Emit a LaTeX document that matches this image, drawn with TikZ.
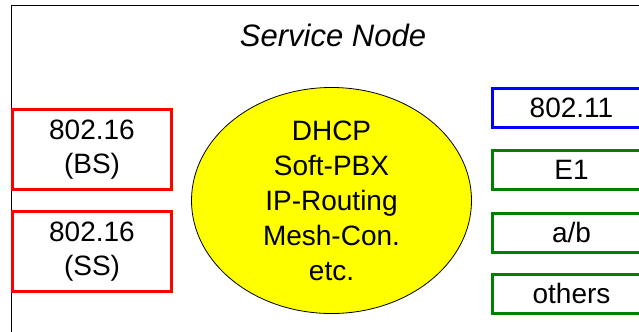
\documentclass[tikz,border=0pt]{standalone}
\usepackage{fontspec}
\setmainfont{Liberation Sans}
\usetikzlibrary{shapes.geometric}
\definecolor{boxred}{RGB}{255,0,0}
\definecolor{boxblue}{RGB}{0,0,255}
\definecolor{boxgreen}{RGB}{0,128,0}
\definecolor{coreyellow}{RGB}{255,255,0}
\begin{document}
\begin{tikzpicture}[x=1bp,y=-1bp,
  txt/.style={font=\fontsize{28bp}{34bp}\selectfont, align=center, inner sep=0pt},
  lbox/.style={txt, draw=boxred, line width=3bp, minimum width=159bp, minimum height=80bp},
  rbox/.style={txt, draw=#1, line width=3bp, minimum width=158bp, minimum height=39bp},
  core/.style={txt, ellipse, draw=black, line width=0.8bp, fill=coreyellow, minimum width=280bp, minimum height=225bp, font=\fontsize{28bp}{35bp}\selectfont},
]
\useasboundingbox (0,0) rectangle (639,331);
\clip (0,0) rectangle (639,331);
\fill[white] (0,0) rectangle (639,331);
\draw[line width=1.5bp] (11.5,5.5) rectangle (700,400);
\node[anchor=base, font=\fontsize{31bp}{36bp}\selectfont\itshape, inner sep=0pt] (title) at (333,46) {Service Node};
\node[lbox] (bs) at (92,149.5) {802.16\\(BS)};
\node[lbox] (ss) at (92,251.5) {802.16\\(SS)};
\node[core] (core) at (331.5,200.5) {DHCP\\Soft-PBX\\IP-Routing\\Mesh-Con.\\etc.};
\node[rbox=boxblue] (wifi) at (571.5,108) {802.11};
\node[rbox=boxgreen] (e1) at (571.5,170) {E1};
\node[rbox=boxgreen] (ab) at (571.5,232.5) {a/b};
\node[rbox=boxgreen] (others) at (571.5,293.5) {others};
\end{tikzpicture}
\end{document}
